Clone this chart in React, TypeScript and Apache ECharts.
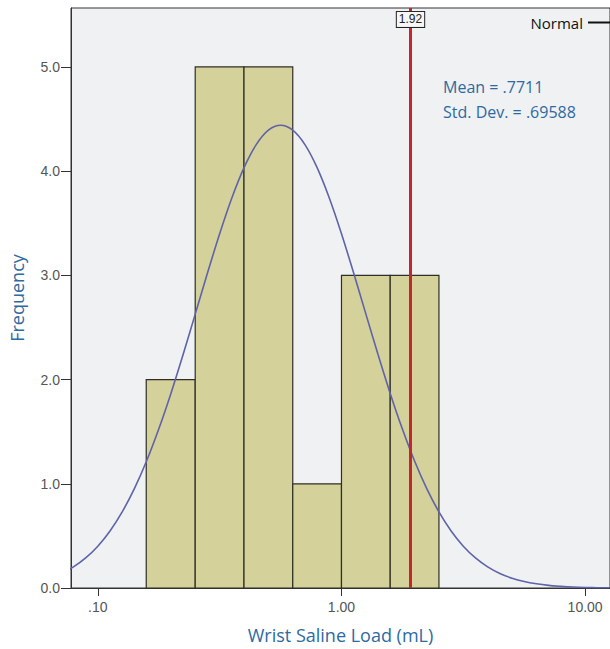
import React, { useEffect, useRef } from "react";
import * as echarts from "echarts";

// Histogram bins (equal width on log10 scale)
const binEdges = [0.158, 0.251, 0.398, 0.631, 1.0, 1.585, 2.512];
const binCounts = [2, 5, 5, 1, 3, 3];

// Normal curve: log10(x) positions and heights
const curveLog10X = [
  -1.15, -1.1, -1.05, -1.0, -0.95, -0.9, -0.85, -0.8, -0.75, -0.7, -0.65, -0.6, -0.55, -0.5, -0.45, -0.4, -0.35, -0.3,
  -0.25, -0.2, -0.15, -0.1, -0.05, 0.0, 0.05, 0.1, 0.15, 0.2, 0.25, 0.3, 0.35, 0.4, 0.45, 0.5, 0.55, 0.6, 0.65, 0.7,
  0.75, 0.8, 0.85, 0.9, 0.95, 1.0, 1.05, 1.1,
];
const curveY = [
  0.139, 0.202, 0.288, 0.401, 0.547, 0.73, 0.953, 1.218, 1.525, 1.867, 2.24, 2.63, 3.022, 3.399, 3.742, 4.033, 4.254,
  4.393, 4.44, 4.393, 4.254, 4.033, 3.742, 3.399, 3.022, 2.63, 2.24, 1.867, 1.525, 1.218, 0.953, 0.73, 0.547, 0.401,
  0.288, 0.202, 0.139, 0.094, 0.062, 0.04, 0.025, 0.016, 0.009, 0.005, 0.003, 0.002,
];

// Reference line
const refValue = 1.92;
const refLabel = "1.92";

// Ticks
const xTickValues = [0.1, 1, 10];
const xTickLabels = [".10", "1.00", "10.00"];
const yTickValues = [0, 1, 2, 3, 4, 5];

const statsText = ["Mean = .7711", "Std. Dev. = .69588"];

export default function App() {
  const ref = useRef<HTMLDivElement>(null);
  useEffect(() => {
    if (!ref.current) return;
    const chart = echarts.init(ref.current, null, { renderer: "svg" });
    const histData = binCounts.map((c, i) => [binEdges[i], binEdges[i + 1], c]);
    const curveData = curveLog10X.map((u, i) => [Math.pow(10, u), curveY[i]]);
    const blue = "#2e6aa1";
    chart.setOption({
      animation: false,
      backgroundColor: "#ffffff",
      textStyle: { fontFamily: "Open Sans" },
      title: {
        text: statsText.join("\n"),
        left: 443,
        top: 74,
        padding: 0,
        textStyle: { color: blue, fontSize: 16, fontWeight: "normal", lineHeight: 25, fontFamily: "Open Sans" },
      },
      legend: {
        show: true,
        right: -11,
        top: 10,
        align: "right",
        itemWidth: 28,
        itemHeight: 2,
        itemGap: 4,
        textStyle: { color: "#111", fontSize: 15, fontFamily: "Open Sans" },
        data: [{ name: "Normal", icon: "rect", itemStyle: { color: "#111" } }],
      },
      grid: {
        left: 69,
        right: -1,
        top: 8,
        bottom: 60,
        show: true,
        backgroundColor: "#eff1f2",
        borderColor: "#333",
        borderWidth: 1,
      },
      xAxis: {
        type: "log",
        logBase: 10,
        min: 0.0776,
        max: 12.65,
        name: "Wrist Saline Load (mL)",
        nameLocation: "middle",
        nameGap: 38,
        nameTextStyle: { color: blue, fontSize: 18, fontFamily: "Open Sans" },
        axisLine: { lineStyle: { color: "#333", width: 1 } },
        axisTick: { show: true, length: 8, customValues: xTickValues, lineStyle: { color: "#333" } },
        axisLabel: {
          customValues: xTickValues,
          margin: 12,
          color: "#555",
          fontSize: 14,
          fontFamily: "Liberation Sans",
          formatter: (v: number) => {
            const i = xTickValues.findIndex((t) => Math.abs(t - v) / t < 1e-6);
            return i >= 0 ? xTickLabels[i] : "";
          },
        },
        splitLine: { show: false },
      },
      yAxis: {
        type: "value",
        min: 0,
        max: 5.565,
        name: "Frequency",
        nameLocation: "middle",
        nameGap: 45,
        nameTextStyle: { color: blue, fontSize: 18, fontFamily: "Open Sans" },
        axisLine: { show: true, lineStyle: { color: "#333", width: 1 } },
        axisTick: { show: true, length: 10, customValues: yTickValues, lineStyle: { color: "#333" } },
        axisLabel: {
          customValues: yTickValues,
          margin: 11,
          color: "#555",
          fontSize: 14,
          fontFamily: "Liberation Sans",
          formatter: (v: number) => v.toFixed(1),
        },
        splitLine: { show: false },
      },
      series: [
        {
          type: "custom",
          name: "Histogram",
          z: 2,
          encode: { x: [0, 1], y: 2 },
          data: histData,
          renderItem: (params: any, api: any) => {
            const p1 = api.coord([api.value(0), api.value(2)]);
            const p2 = api.coord([api.value(1), 0]);
            return {
              type: "rect",
              shape: { x: p1[0], y: p1[1], width: p2[0] - p1[0], height: p2[1] - p1[1] },
              style: { fill: "#d4d19b", stroke: "#2f2f26", lineWidth: 1.2 },
            };
          },
        },
        {
          type: "line",
          name: "Normal",
          z: 3,
          data: curveData,
          smooth: 0.3,
          showSymbol: false,
          lineStyle: { color: "#5f63a8", width: 1.6 },
          itemStyle: { color: "#5f63a8" },
        },
        {
          type: "line",
          name: "ref",
          z: 4,
          data: [],
          markLine: {
            silent: true,
            symbol: "none",
            label: { show: false },
            lineStyle: { color: "#c3262c", width: 3, type: "solid" },
            data: [{ xAxis: refValue }],
          },
          markPoint: {
            silent: true,
            data: [
              {
                coord: [refValue, 5.455],
                symbol: "rect",
                symbolSize: 0,
                label: {
                  show: true,
                  position: "inside",
                  formatter: refLabel,
                  color: "#222",
                  fontSize: 12,
                  fontFamily: "Liberation Sans",
                  backgroundColor: "#f6f6f6",
                  borderColor: "#222",
                  borderWidth: 1,
                  padding: [2, 2, 1, 2],
                },
              },
            ],
          },
        },
      ],
    });
    return () => chart.dispose();
  }, []);
  return <div ref={ref} style={{ position: "fixed", left: 0, top: 0, width: 610, height: 649 }} />;
}
